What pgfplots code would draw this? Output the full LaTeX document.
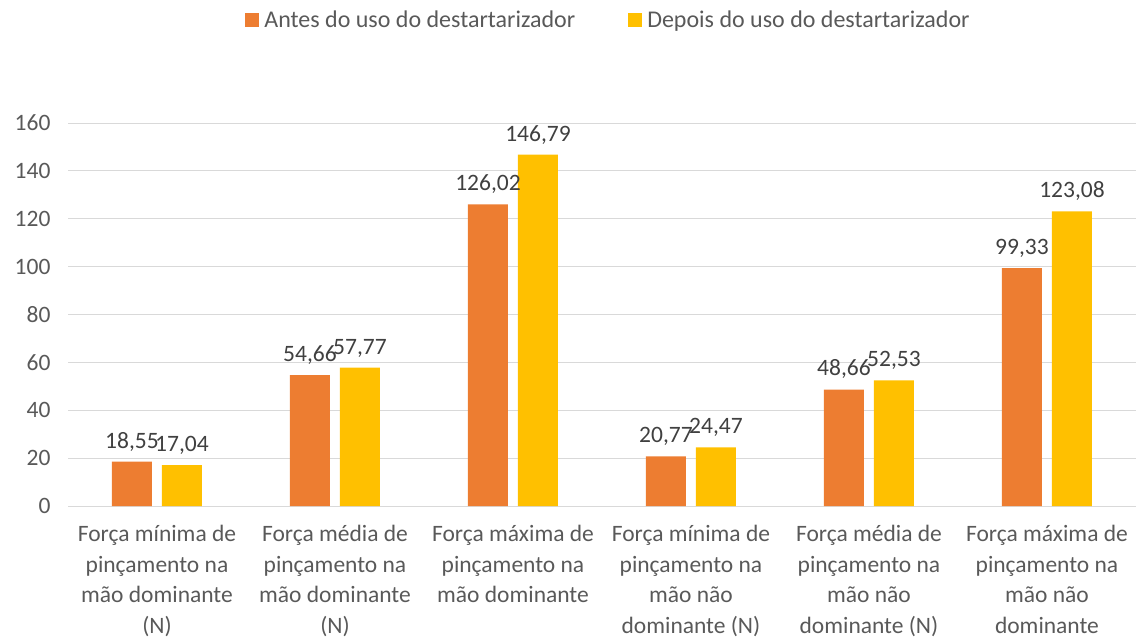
\documentclass[border=0pt]{standalone}
\usepackage{pgfplots}
\pgfplotsset{compat=1.18}
\usepackage{fontspec}
\setmainfont{Carlito}
\definecolor{corange}{HTML}{ED7D31}
\definecolor{cyellow}{HTML}{FFC000}
\definecolor{tickgray}{HTML}{595959}
\definecolor{labgray}{HTML}{404040}
\definecolor{gridgray}{HTML}{D9D9D9}
\begin{document}
\begin{tikzpicture}
\clip (0,0) rectangle (1139pt,-639pt);
\begin{axis}[
  at={(68pt,-506pt)}, anchor=south west,
  scale only axis, width=1068pt, height=383pt,
  ybar=10pt, bar width=40pt,
  xmin=-0.5, xmax=5.5, ymin=0, ymax=160,
  ytick={0,20,...,160},
  xtick={0,...,5},
  xticklabels={
    {Força mínima de\\pinçamento na\\mão dominante\\(N)},
    {Força média de\\pinçamento na\\mão dominante\\(N)},
    {Força máxima de\\pinçamento na\\mão dominante},
    {Força mínima de\\pinçamento na\\mão não\\dominante (N)},
    {Força média de\\pinçamento na\\mão não\\dominante (N)},
    {Força máxima de\\pinçamento na\\mão não\\dominante}},
  x tick label style={align=center, font=\fontsize{23.5}{30.5}\selectfont, text=tickgray, yshift=-16pt},
  y tick label style={font=\fontsize{23.5}{28}\selectfont, text=tickgray, xshift=-14pt},
  /pgf/number format/assume math mode=true,
  major tick length=0pt,
  axis lines*=left,
  x axis line style={gridgray, line width=1pt, -},
  y axis line style={draw=none},
  ymajorgrids, grid style={gridgray, line width=1pt},
  nodes near coords,
  nodes near coords style={font=\fontsize{23.5}{28}\selectfont, text=labgray,
    /pgf/number format/use comma, /pgf/number format/fixed, /pgf/number format/fixed zerofill,
    /pgf/number format/precision=2, /pgf/number format/assume math mode=true},
  every node near coord/.append style={yshift=7pt},
  legend style={at={(0.5075,1.269)}, anchor=center, legend columns=2, draw=none, fill=none,
    font=\fontsize{24}{28}\selectfont, text=tickgray,
    nodes={inner xsep=5pt},
    /tikz/every even column/.append style={column sep=48pt}},
  legend image code/.code={\fill[#1] (0pt,-7pt) rectangle (14pt,7pt);},
]
\addplot[fill=corange, draw=none] coordinates {(0,18.55) (1,54.66) (2,126.02) (3,20.77) (4,48.66) (5,99.33)};
\addplot[fill=cyellow, draw=none] coordinates {(0,17.04) (1,57.77) (2,146.79) (3,24.47) (4,52.53) (5,123.08)};
\legend{Antes do uso do destartarizador, Depois do uso do destartarizador}
\end{axis}
\end{tikzpicture}
\end{document}
